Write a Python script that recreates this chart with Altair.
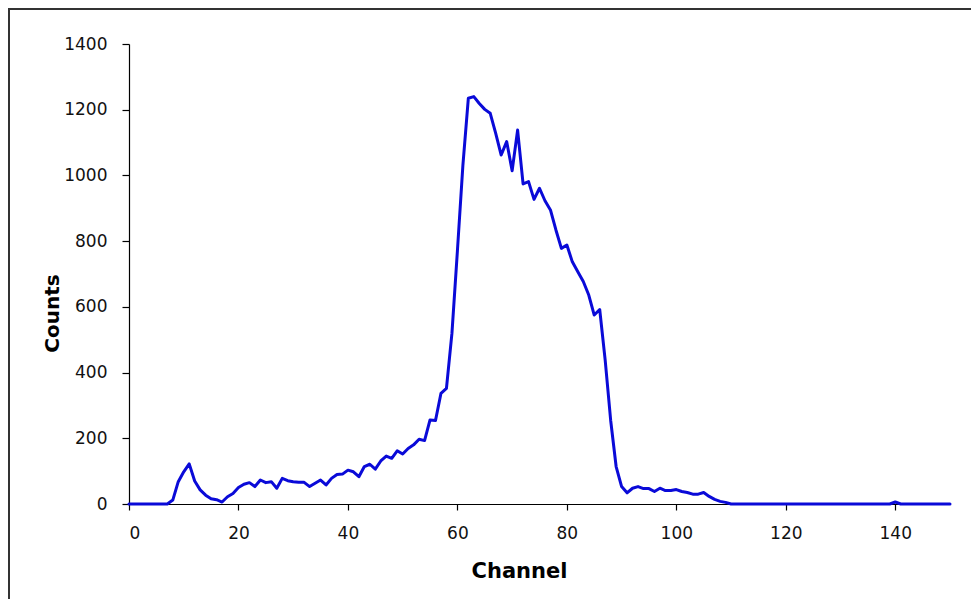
import altair as alt
import pandas as pd

channels = list(range(0, 151))
counts = (
    [0, 0, 0, 0, 0, 0, 0, 0, 12, 68,          # 0-9
     98, 122, 70, 43, 27, 16, 13, 6, 22, 32,   # 10-19
     50, 60, 65, 53, 73, 65, 68, 48, 78, 71,   # 20-29
     68, 66, 66, 53, 63, 73, 58, 78, 90, 91,   # 30-39
     103, 98, 83, 114, 121, 106, 131, 146, 139, 162,  # 40-49
     152, 169, 180, 197, 193, 256, 254, 337, 352, 519,  # 50-59
     770, 1030, 1235, 1240, 1219, 1201, 1189, 1128, 1062, 1103,  # 60-69
     1014, 1138, 974, 981, 927, 961, 923, 895, 834, 778,  # 70-79
     788, 737, 707, 677, 636, 575, 592, 438, 255, 114,  # 80-89
     53, 34, 48, 53, 47, 47, 38, 48, 41, 41,   # 90-99
     44, 38, 35, 30, 30, 35, 23, 14, 8, 5]     # 100-109
    + [0] * 30                                 # 110-139
    + [6]                                      # 140
    + [0] * 10                                 # 141-150
)

x_ticks = [0, 20, 40, 60, 80, 100, 120, 140]
y_ticks = [0, 200, 400, 600, 800, 1000, 1200, 1400]

df = pd.DataFrame({"Channel": channels, "Counts": counts})

FONT = "DejaVu Sans"

frame = alt.Chart(pd.DataFrame({"k": [0]})).mark_rect(
    filled=False, stroke="#333333", strokeWidth=2
).encode(
    x=alt.value(-120), x2=alt.value(900),
    y=alt.value(-35), y2=alt.value(620)
)

line = alt.Chart(df).mark_line(
    color="#0a0ad8", strokeWidth=3, strokeJoin="round", strokeCap="round"
).encode(
    x=alt.X("Channel:Q",
            scale=alt.Scale(domain=[0, 150], nice=False, zero=True),
            axis=alt.Axis(values=x_ticks, title="Channel", grid=False,
                          format="d", tickSize=6, labelPadding=15,
                          titleX=390, titleY=67, titleBaseline="middle",
                          titleAlign="center", titleFontSize=21)),
    y=alt.Y("Counts:Q",
            scale=alt.Scale(domain=[0, 1400], nice=False),
            axis=alt.Axis(values=y_ticks, title="Counts", grid=False,
                          format="d", tickSize=7, labelPadding=15,
                          titleX=-77, titleY=269, titleBaseline="middle",
                          titleAlign="center")),
)

chart = alt.layer(frame, line).properties(
    width=821, height=460,
    autosize=alt.AutoSizeParams(type="none"),
    padding={"left": 121, "top": 36, "right": 21, "bottom": 95},
    background="white",
).configure_view(stroke=None).configure_axis(
    domainColor="#000000", domainWidth=1.2, tickColor="#000000", tickWidth=1.2,
    labelFont=FONT, labelFontSize=17, labelColor="#111111",
    titleFont=FONT, titleFontSize=20, titleFontWeight="bold", titleColor="#000000",
)

chart.save("out.html", embed_options={"renderer": "svg", "actions": False})
